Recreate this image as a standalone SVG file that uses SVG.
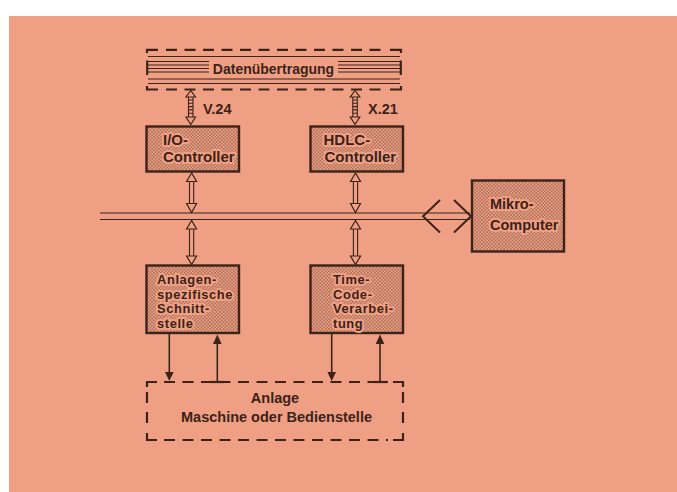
<svg xmlns="http://www.w3.org/2000/svg" width="677" height="492" viewBox="0 0 677 492">
<style>
.ink{stroke:#3d2218;fill:none}
.thin{stroke:#3d2218;stroke-width:1.1;fill:none}
.dash{stroke:#3d2218;stroke-width:2.2;fill:none;stroke-dasharray:11 7.5}
.corner{stroke:#3d2218;stroke-width:2.2;fill:none}
.box{fill:url(#dots);stroke:#3d2218;stroke-width:2.4}
.hollow{fill:#EFA084;stroke:#3d2218;stroke-width:1.2;stroke-linejoin:miter}
.solid{fill:#3d2218;stroke:none}
.line{stroke:#3d2218;stroke-width:1.6;fill:none}
text{font-family:"Liberation Sans",Arial,Helvetica,sans-serif;font-weight:bold;fill:#3d2218}
.halo{stroke:#EFA084;stroke-width:4;stroke-linejoin:round;paint-order:stroke}
.small{font-size:12.9px;letter-spacing:0.6px}
</style>
<defs>
<pattern id="dots" width="3.4" height="3.4" patternUnits="userSpaceOnUse">
<rect width="3.4" height="3.4" fill="#EFA084"/>
<circle cx="0.85" cy="0.85" r="0.6" fill="#3d2218"/>
<circle cx="2.55" cy="2.55" r="0.6" fill="#3d2218"/>
</pattern>
</defs>
<rect x="0" y="0" width="677" height="492" fill="#ffffff"/>
<rect x="9" y="16" width="668" height="476" fill="#EFA084"/>

<g id="datenuebertragung">
<path class="corner" d="M147,53 V49.8 H158"/>
<path class="corner" d="M390,49.8 H401 V53"/>
<line class="dash" x1="166" y1="49.8" x2="386" y2="49.8"/>
<path class="corner" d="M147,86 V89.5 H158"/>
<path class="corner" d="M390,89.5 H401 V86"/>
<line class="dash" x1="166" y1="89.5" x2="386" y2="89.5"/>
<line class="thin" x1="148" y1="56.5" x2="400" y2="56.5"/>
<line class="thin" x1="148" y1="79" x2="400" y2="79"/>
<line class="thin" x1="148" y1="83.5" x2="400" y2="83.5"/>
<line class="corner" x1="147.2" y1="60.5" x2="147.2" y2="75"/>
<line class="corner" x1="400.8" y1="60.5" x2="400.8" y2="75"/>
<path class="thin" d="M148,61.5 H209 M148,65 H209 M148,68.5 H209 M148,72 H209 M338,61.5 H400 M338,65 H400 M338,68.5 H400 M338,72 H400"/>
<text x="273.5" y="73.5" font-size="14" text-anchor="middle">Datenübertragung</text>
</g>

<g id="io-controller">
<rect class="box" x="146.5" y="126.5" width="92.5" height="45"/>
<text class="halo" x="163" y="145" font-size="15">I/O-</text>
<text class="halo" x="163" y="161.5" font-size="15">Controller</text>
</g>

<g id="hdlc-controller">
<rect class="box" x="310.5" y="126.5" width="92.5" height="45"/>
<text class="halo" x="323.5" y="145" font-size="15">HDLC-</text>
<text class="halo" x="324.5" y="161.5" font-size="15">Controller</text>
</g>

<g id="mikro-computer">
<rect class="box" x="472" y="180.5" width="92" height="71"/>
<text class="halo" x="490" y="208.5" font-size="14.5">Mikro-</text>
<text class="halo" x="490" y="230" font-size="14.5">Computer</text>
</g>

<g id="anlagen-schnittstelle">
<rect class="box" x="146.5" y="265.5" width="92.5" height="67.5"/>
<text class="halo small" x="157" y="284">Anlagen-</text>
<text class="halo small" x="157" y="298.5">spezifische</text>
<text class="halo small" x="157" y="313">Schnitt-</text>
<text class="halo small" x="157" y="327.5">stelle</text>
</g>

<g id="time-code">
<rect class="box" x="310.5" y="265.5" width="92.5" height="67.5"/>
<text class="halo small" x="333" y="284">Time-</text>
<text class="halo small" x="333" y="298.5">Code-</text>
<text class="halo small" x="333" y="313">Verarbei-</text>
<text class="halo small" x="333" y="327.5">tung</text>
</g>

<g id="anlage">
<path class="corner" d="M147,387 V382 H157"/>
<path class="corner" d="M393,382 H403 V387"/>
<path class="corner" d="M147,433 V440 H157"/>
<path class="corner" d="M393,440 H403 V433"/>
<line class="dash" x1="164" y1="382" x2="388" y2="382"/>
<line class="dash" x1="164" y1="440" x2="388" y2="440"/>
<path class="corner" d="M147,392 V403 M147,412 V423 M403,392 V403 M403,412 V423"/>
<text x="275" y="402.5" font-size="14.5" text-anchor="middle">Anlage</text>
<text x="276.5" y="422" font-size="14.5" text-anchor="middle">Maschine oder Bedienstelle</text>
</g>

<g id="connectors">
<line class="thin" x1="100" y1="213" x2="470" y2="213" stroke-width="1.4"/>
<line class="thin" x1="100" y1="219.5" x2="470" y2="219.5" stroke-width="1.4"/>
<path class="ink" stroke-width="2" d="M440,200 L423,216.3 L440,232.5 M454,200 L471,216.3 L454,232.5"/>

<g>
<line class="thin" x1="188.5" y1="97" x2="188.5" y2="117"/>
<line class="thin" x1="193" y1="97" x2="193" y2="117"/>
<path class="thin" d="M188.5,100 H193 M188.5,103.3 H193 M188.5,106.6 H193 M188.5,109.9 H193 M188.5,113.2 H193"/>
<polygon class="hollow" points="190.75,90.5 186,97 195.5,97"/>
<polygon class="hollow" points="186,117 195.5,117 190.75,124.5"/>
<text x="203" y="113.5" font-size="14.5">V.24</text>
</g>
<g>
<line class="thin" x1="352.8" y1="97" x2="352.8" y2="117"/>
<line class="thin" x1="357.3" y1="97" x2="357.3" y2="117"/>
<path class="thin" d="M352.8,100 H357.3 M352.8,103.3 H357.3 M352.8,106.6 H357.3 M352.8,109.9 H357.3 M352.8,113.2 H357.3"/>
<polygon class="hollow" points="355,90.5 350.3,97 359.8,97"/>
<polygon class="hollow" points="350.3,117 359.8,117 355,124.5"/>
<text x="368" y="113.5" font-size="14.5">X.21</text>
</g>

<g>
<line class="thin" x1="189.5" y1="181.5" x2="189.5" y2="203.5"/>
<line class="thin" x1="193.7" y1="181.5" x2="193.7" y2="203.5"/>
<polygon class="hollow" points="191.6,173 186.6,181.5 196.6,181.5"/>
<polygon class="hollow" points="186.6,203.5 196.6,203.5 191.6,212.5"/>
<line class="thin" x1="189.5" y1="229" x2="189.5" y2="256"/>
<line class="thin" x1="193.7" y1="229" x2="193.7" y2="256"/>
<polygon class="hollow" points="191.6,220.5 186.6,229 196.6,229"/>
<polygon class="hollow" points="186.6,256 196.6,256 191.6,264.5"/>
</g>
<g>
<line class="thin" x1="353.4" y1="181.5" x2="353.4" y2="203.5"/>
<line class="thin" x1="357.6" y1="181.5" x2="357.6" y2="203.5"/>
<polygon class="hollow" points="355.5,173 350.5,181.5 360.5,181.5"/>
<polygon class="hollow" points="350.5,203.5 360.5,203.5 355.5,212.5"/>
<line class="thin" x1="353.4" y1="229" x2="353.4" y2="256"/>
<line class="thin" x1="357.6" y1="229" x2="357.6" y2="256"/>
<polygon class="hollow" points="355.5,220.5 350.5,229 360.5,229"/>
<polygon class="hollow" points="350.5,256 360.5,256 355.5,264.5"/>
</g>

<line class="line" x1="169.3" y1="334" x2="169.3" y2="373"/>
<polygon class="solid" points="165,372 173.6,372 169.3,381"/>
<line class="line" x1="217.3" y1="343" x2="217.3" y2="382"/>
<polygon class="solid" points="213,344 221.6,344 217.3,334.5"/>
<line class="corner" x1="211" y1="382" x2="224" y2="382"/>
<line class="line" x1="331.7" y1="334" x2="331.7" y2="373"/>
<polygon class="solid" points="327.4,372 336,372 331.7,381"/>
<line class="line" x1="380" y1="343" x2="380" y2="382"/>
<polygon class="solid" points="375.7,344 384.3,344 380,334.5"/>
<line class="corner" x1="374" y1="382" x2="387" y2="382"/>
</g>
</svg>
